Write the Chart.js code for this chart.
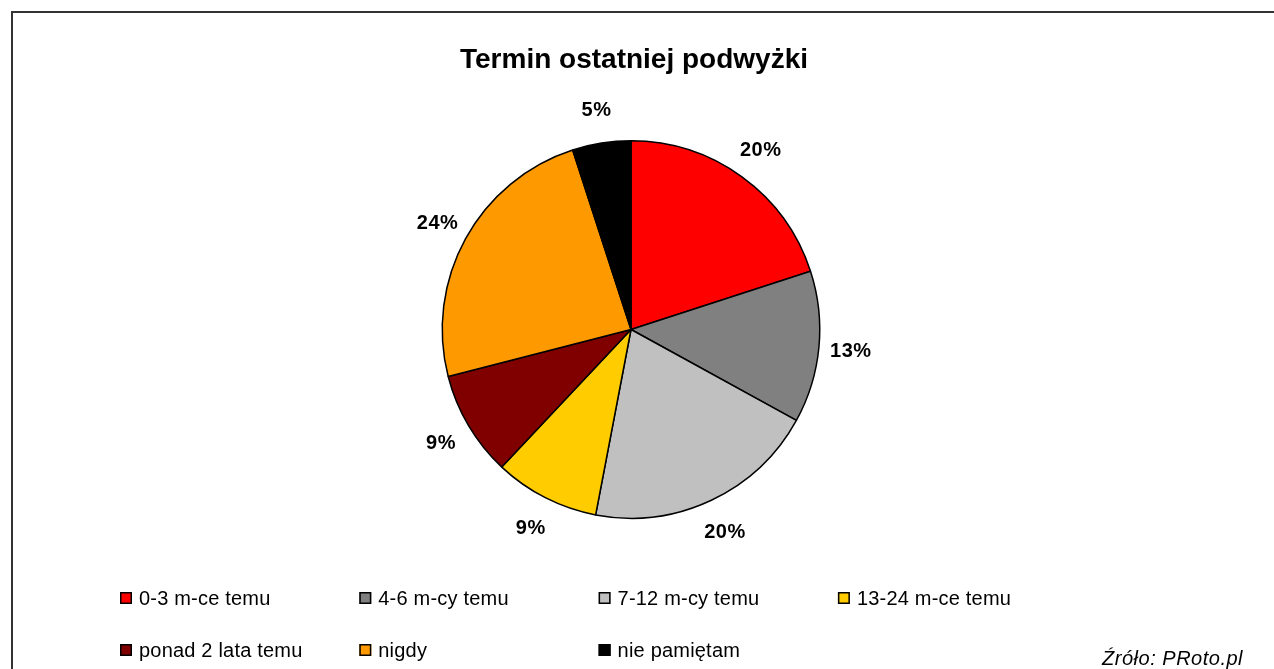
<!DOCTYPE html>
<html>
<head>
<meta charset="utf-8">
<script src="https://cdn.jsdelivr.net/npm/chart.js@4.4.1/dist/chart.umd.min.js"></script>
<style>
  html, body { margin: 0; padding: 0; background: #fff; }
  #wrap { width: 1274px; height: 669px; position: relative; }
</style>
</head>
<body>
<div id="wrap"><canvas id="c" width="1274" height="669"></canvas></div>
<script>
const title = 'Termin ostatniej podwyżki';
const source = 'Źróło: PRoto.pl';
const categories = ['0-3 m-ce temu', '4-6 m-cy temu', '7-12 m-cy temu', '13-24 m-ce temu', 'ponad 2 lata temu', 'nigdy', 'nie pamiętam'];
const values = [20, 13, 20, 9, 9, 24, 5];
const colors = ['#FF0000', '#808080', '#C0C0C0', '#FFCC00', '#800000', '#FF9900', '#000000'];

const FONT = '"Liberation Sans", Arial, sans-serif';

const decorPlugin = {
  id: 'decor',
  beforeDraw(chart) {
    const ctx = chart.ctx;
    ctx.save();
    ctx.fillStyle = '#fff';
    ctx.fillRect(0, 0, chart.width, chart.height);
    // frame
    ctx.fillStyle = '#333';
    ctx.fillRect(11, 11, chart.width - 11, 2);
    ctx.fillRect(11, 11, 2, chart.height - 11);
    // title
    ctx.fillStyle = '#000';
    ctx.font = 'bold 28px ' + FONT;
    ctx.letterSpacing = '0px';
    ctx.textAlign = 'center';
    ctx.textBaseline = 'alphabetic';
    ctx.fillText(title, 634, 68);
    ctx.restore();
  },
  afterDraw(chart) {
    const ctx = chart.ctx;
    const meta = chart.getDatasetMeta(0);
    const total = values.reduce((a, b) => a + b, 0);
    ctx.save();
    // data labels
    ctx.font = 'bold 20px ' + FONT;
    ctx.letterSpacing = '0.5px';
    ctx.fillStyle = '#000';
    ctx.textAlign = 'center';
    ctx.textBaseline = 'middle';
    meta.data.forEach((arc, i) => {
      const p = arc.getProps(['x', 'y', 'startAngle', 'endAngle', 'outerRadius'], true);
      const mid = (p.startAngle + p.endAngle) / 2;
      const lx = p.x + Math.cos(mid) * (p.outerRadius + 32);
      const ly = p.y + Math.sin(mid) * (p.outerRadius + 34);
      ctx.fillText(Math.round(values[i] / total * 100) + '%', lx, ly + 1);
    });
    // legend
    ctx.font = '20px ' + FONT;
    ctx.letterSpacing = '0.2px';
    ctx.textAlign = 'left';
    ctx.textBaseline = 'middle';
    const colW = 239.3, x0 = 120, rowY = [598, 650];
    categories.forEach((lab, i) => {
      const col = i % 4, row = Math.floor(i / 4);
      const x = x0 + col * colW, y = rowY[row];
      ctx.fillStyle = colors[i];
      ctx.fillRect(x, y - 6, 12, 12);
      ctx.strokeStyle = '#000';
      ctx.lineWidth = 1.5;
      ctx.strokeRect(x + 0.75, y - 5.25, 10.5, 10.5);
      ctx.fillStyle = '#000';
      ctx.fillText(lab, x + 19, y + 1);
    });
    // source
    ctx.font = 'italic 20px ' + FONT;
    ctx.letterSpacing = '0.5px';
    ctx.textAlign = 'right';
    ctx.textBaseline = 'alphabetic';
    ctx.fillText(source, 1243, 665);
    ctx.restore();
  }
};

new Chart(document.getElementById('c'), {
  type: 'pie',
  data: {
    labels: categories,
    datasets: [{
      data: values,
      backgroundColor: colors,
      borderColor: '#000',
      borderWidth: 1.5
    }]
  },
  options: {
    responsive: false,
    animation: false,
    events: [],
    layout: { padding: { top: 140, bottom: 150, left: 331, right: 343 } },
    plugins: {
      legend: { display: false },
      title: { display: false },
      tooltip: { enabled: false }
    }
  },
  plugins: [decorPlugin]
});
</script>
</body>
</html>
